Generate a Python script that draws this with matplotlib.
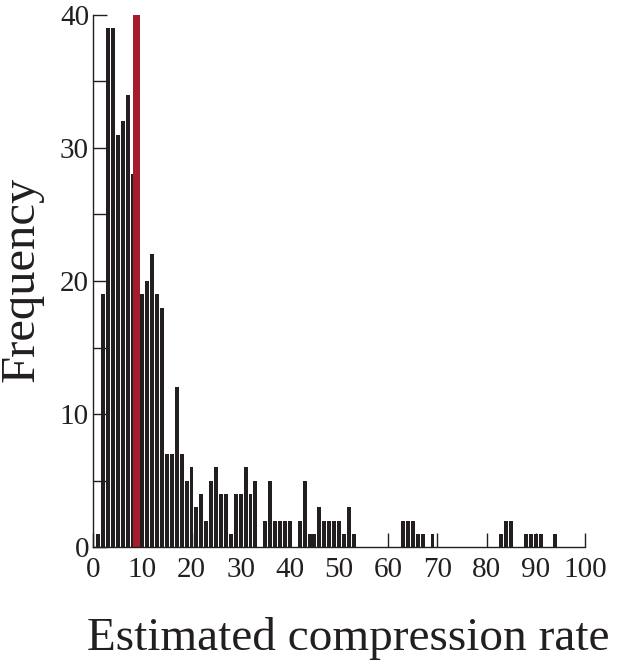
import numpy as np
import matplotlib
matplotlib.use("Agg")
import matplotlib.pyplot as plt

# Histogram counts (bin centre -> frequency)
rates = [1, 2, 3, 4, 5, 6, 7, 8,
         10, 11, 12, 13, 14, 15, 16, 17, 18, 19, 20,
         21, 22, 23, 24, 25, 26, 27, 28, 29, 30,
         31, 32, 33, 35, 36, 37, 38, 39, 40,
         42, 43, 44, 45, 46, 47, 48, 49, 50,
         51, 52, 53, 63, 64, 65, 66, 67, 69,
         83, 84, 85, 88, 89, 90, 91, 94]
counts = [1, 19, 39, 39, 31, 32, 34, 28,
          19, 20, 22, 19, 18, 7, 7, 12, 7, 5, 6,
          3, 4, 2, 5, 6, 4, 4, 1, 4, 4,
          6, 4, 5, 2, 5, 2, 2, 2, 2,
          2, 5, 1, 1, 3, 2, 2, 2, 2,
          1, 3, 1, 2, 2, 2, 1, 1, 1,
          1, 2, 2, 1, 1, 1, 1, 1]

# Highlighted rate (red marker)
marker_rate = 8.85
marker_height = 40

x_ticks = [0, 10, 20, 30, 40, 50, 60, 70, 80, 90, 100]
y_ticks = [0, 10, 20, 30, 40]

plt.rcParams['font.family'] = ['Liberation Serif', 'DejaVu Serif']

fig = plt.figure(figsize=(6.17, 6.69), dpi=100)
ax = fig.add_axes([0.151, 0.182, 0.797, 0.796])

ax.bar(rates, counts, width=0.8, color='#231f20', linewidth=0)
ax.bar([marker_rate], [marker_height], width=1.35, color='#a51c2c', linewidth=0)

ax.set_xlim(0, 100)
ax.set_ylim(0, 40)
ax.set_xticks(x_ticks)
ax.set_yticks(y_ticks)
ax.set_yticks([5, 15, 25, 35], minor=True)

for s in ['top', 'right']:
    ax.spines[s].set_visible(False)
for s in ['left', 'bottom']:
    ax.spines[s].set_linewidth(1.0)
    ax.spines[s].set_color('#231f20')

ax.tick_params(axis='both', which='both', direction='in', length=10,
               width=1.0, color='#231f20', labelsize=21, labelcolor='#231f20')
ax.tick_params(axis='y', pad=3)
ax.tick_params(axis='x', pad=7)

fig.text(0.035, 0.583, 'Frequency', rotation=90, fontsize=35,
         ha='center', va='center', color='#231f20')
fig.text(0.565, 0.045, 'Estimated compression rate', fontsize=34,
         ha='center', va='center', color='#231f20')

fig.savefig('out.png', dpi=100)
